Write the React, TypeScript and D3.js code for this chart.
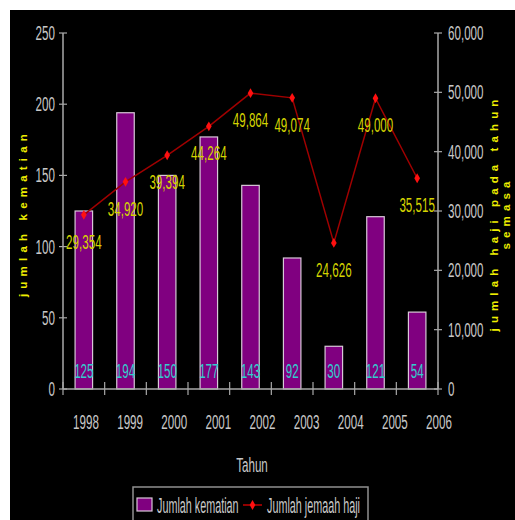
import React from 'react';
import * as d3 from 'd3';

const years = ['1998', '1999', '2000', '2001', '2002', '2003', '2004', '2005', '2006'];
const deaths = [125, 194, 150, 177, 143, 92, 30, 121, 54];
const pilgrims = [29354, 34920, 39394, 44264, 49864, 49074, 24626, 49000, 35515];
const deathTicks = [0, 50, 100, 150, 200, 250];
const pilgrimTicks = [0, 10000, 20000, 30000, 40000, 50000, 60000];
const seriesNames = ['Jumlah kematian', 'Jumlah jemaah haji'];
const leftTitle = 'jumlah kematian';
const rightTitleLines = ['jumlah haji pada tahun', 'semasa'];
const xTitle = 'Tahun';

const W = 515;
const H = 520;
const FONT = "'Liberation Sans', Arial, sans-serif";

const L = 63, R = 438, T = 33, B = 389;

function ST(props: any) {
  const { x, y, children, fill = '#c8c8c8', size = 14, sx = 0.83, sy = 1.5, anchor = 'middle' } = props;
  return (
    <text
      transform={`translate(${x},${y}) scale(${sx},${sy})`}
      textAnchor={anchor}
      fill={fill}
      fontSize={size}
      fontFamily={FONT}
    >
      {children}
    </text>
  );
}

export default function App() {
  const x = d3.scaleBand<string>().domain(years).range([L, R]).paddingInner(0.58).paddingOuter(0.29);
  const xLab = d3.scalePoint<string>().domain(years).range([86, 439]);
  const yL = d3.scaleLinear().domain([0, 250]).range([B, T]);
  const yR = d3.scaleLinear().domain([0, 60000]).range([B, T]);
  const fmt = d3.format(',');
  const step = x.step();
  const cx = (y: string) => (x(y) as number) + x.bandwidth() / 2;
  const lineData = years.map((yr, i) => ({ yr, v: pilgrims[i] }));
  const line = d3.line<{ yr: string; v: number }>().x(d => cx(d.yr)).y(d => yR(d.v));
  const diamond = d3.symbol().type(d3.symbolDiamond).size(28)() as string;
  const axisColor = '#a8a8a8';
  const bTicks = d3.range(0, years.length + 1).map(i => L + i * step);

  return (
    <svg width={W} height={H} style={{ position: 'absolute', left: 0, top: 0 }}>
      <rect x={0} y={0} width={W} height={H} fill="#ffffff" />
      <rect x={10} y={10} width={W - 10} height={H - 10} fill="#000000" />

      {/* bars */}
      {years.map((yr, i) => (
        <rect
          key={yr}
          x={x(yr)}
          y={yL(deaths[i])}
          width={x.bandwidth()}
          height={B - yL(deaths[i])}
          fill="#800080"
          stroke="#d8c8d8"
          strokeWidth={1.2}
        />
      ))}
      {years.map((yr, i) => (
        <ST key={'bl' + yr} x={cx(yr)} y={378} fill="#33cccc">{deaths[i]}</ST>
      ))}

      {/* axes */}
      <line x1={L} x2={L} y1={T} y2={B} stroke={axisColor} strokeWidth={1.5} />
      <line x1={R} x2={R} y1={T} y2={B} stroke={axisColor} strokeWidth={1.5} />
      <line x1={L} x2={R} y1={B} y2={B} stroke={axisColor} strokeWidth={1.5} />
      {deathTicks.map(t => (
        <g key={'lt' + t}>
          <line x1={L - 4} x2={L + 4} y1={yL(t)} y2={yL(t)} stroke={axisColor} strokeWidth={1.2} />
          <ST x={55} y={yL(t) + 7} anchor="end">{t}</ST>
        </g>
      ))}
      {pilgrimTicks.map(t => (
        <g key={'rt' + t}>
          <line x1={R - 4} x2={R + 4} y1={yR(t)} y2={yR(t)} stroke={axisColor} strokeWidth={1.2} />
          <ST x={448} y={yR(t) + 7} anchor="start">{fmt(t)}</ST>
        </g>
      ))}
      {bTicks.map((bx, i) => (
        <line key={'bt' + i} x1={bx} x2={bx} y1={B - 7} y2={B + 6} stroke={axisColor} strokeWidth={1.2} />
      ))}
      {years.map(yr => (
        <ST key={'xl' + yr} x={xLab(yr)} y={429}>{yr}</ST>
      ))}
      <ST x={252} y={472}>{xTitle}</ST>

      {/* line series */}
      <path d={line(lineData) as string} fill="none" stroke="#a00000" strokeWidth={1.5} />
      {lineData.map(d => (
        <path key={'m' + d.yr} d={diamond} transform={`translate(${cx(d.yr)},${yR(d.v)})`} fill="#ff1010" />
      ))}
      {lineData.map(d => (
        <ST key={'ll' + d.yr} x={cx(d.yr)} y={yR(d.v) + 34} fill="#d4d400">{fmt(d.v)}</ST>
      ))}

      {/* axis titles */}
      <text
        transform="translate(27,213) rotate(-90)"
        textAnchor="middle"
        fill="#eeee00"
        fontSize={11.5}
        fontWeight={700}
        fontFamily={FONT}
        letterSpacing={5.2}
      >
        {leftTitle}
      </text>
      {rightTitleLines.map((s, i) => (
        <text
          key={'rtl' + i}
          transform={`translate(${498 + i * 12},213) rotate(-90)`}
          textAnchor="middle"
          fill="#eeee00"
          fontSize={11.5}
          fontWeight={700}
          fontFamily={FONT}
          letterSpacing={5.1}
        >
          {s}
        </text>
      ))}

      {/* legend */}
      <rect x={133} y={487} width={235} height={40} fill="none" stroke="#909090" strokeWidth={1.5} />
      <rect x={137} y={498} width={15} height={13} fill="#800080" stroke="#d8c8d8" strokeWidth={1.2} />
      <ST x={157} y={513} anchor="start" size={13.5} sx={0.8} sy={1.6}>{seriesNames[0]}</ST>
      <line x1={243} x2={262} y1={505} y2={505} stroke="#c00000" strokeWidth={1.5} />
      <path d={diamond} transform="translate(252.5,505)" fill="#ff1010" />
      <ST x={267} y={513} anchor="start" size={13.5} sx={0.8} sy={1.6}>{seriesNames[1]}</ST>
    </svg>
  );
}
